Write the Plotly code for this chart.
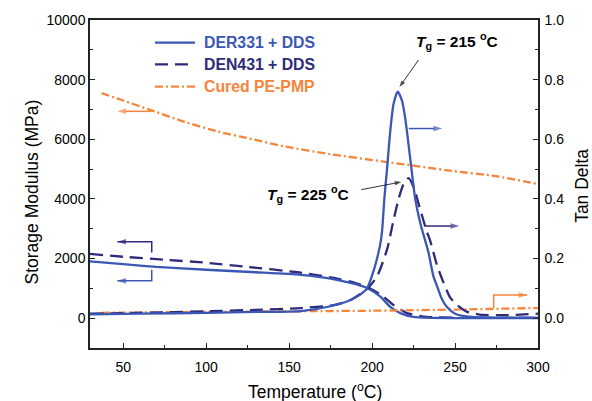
import plotly.graph_objects as go

# ---------------- data ----------------
# Storage modulus (MPa)
der_mod_T = [30, 50, 70, 100, 130, 157, 175, 187, 197, 205, 211, 217, 225, 235, 250, 270, 300]
der_mod_v = [1905, 1815, 1720, 1624, 1540, 1455, 1330, 1184, 1015, 720, 380, 170, 40, 10, 5, 5, 5]

den_mod_T = [30, 50, 75, 100, 125, 155, 177, 190, 197, 207, 213, 221, 233, 250, 300]
den_mod_v = [2155, 2060, 1960, 1860, 1720, 1540, 1350, 1180, 1050, 720, 440, 170, 45, 15, 10]

pe_mod_T = [37, 50, 67, 85, 107, 128, 148, 175, 208, 248, 275, 300]
pe_mod_v = [7546, 7300, 6970, 6620, 6260, 6000, 5750, 5500, 5245, 4940, 4760, 4500]

# Tan delta
der_tan_T = [30, 60, 100, 130, 157, 175, 187, 193, 197, 201, 203, 205, 206, 207.4, 209, 211, 213,
             215.5, 218, 220, 223, 226, 229, 231, 234, 237, 239, 242, 245, 250, 260, 280, 300]
der_tan_v = [0.013, 0.015, 0.018, 0.021, 0.024, 0.040, 0.061, 0.080, 0.100, 0.160, 0.200, 0.250,
             0.290, 0.400, 0.500, 0.630, 0.720, 0.760, 0.730, 0.670, 0.535, 0.400, 0.320, 0.280,
             0.220, 0.140, 0.110, 0.065, 0.038, 0.015, 0.004, 0.002, 0.002]

den_tan_T = [30, 60, 100, 130, 157, 177, 187, 197, 203, 209, 213, 216, 219, 222, 225, 229, 233,
             235, 239, 243, 247, 251, 257, 265, 280, 300]
den_tan_v = [0.015, 0.018, 0.023, 0.028, 0.034, 0.044, 0.061, 0.098, 0.140, 0.230, 0.330, 0.400,
             0.450, 0.470, 0.440, 0.365, 0.290, 0.260, 0.180, 0.120, 0.070, 0.045, 0.022, 0.012,
             0.010, 0.015]

pe_tan_T = [37, 100, 150, 200, 250, 300]
pe_tan_v = [0.018, 0.021, 0.023, 0.025, 0.029, 0.034]

series_names = ["DER331 + DDS", "DEN431 + DDS", "Cured PE-PMP"]

# ---------------- styling ----------------
BLUE = "#3b57b5"
NAVY = "#2d2b7a"
ORANGE = "#f5853a"
FONT = "Arial, Liberation Sans, sans-serif"
DASH_DEN = "13px,7px"
DASH_PE = "8px,3px,2px,3px"
LW = 2.3

fig = go.Figure()

def add(T, v, color, dash, axis):
    fig.add_trace(go.Scatter(x=T, y=v, mode="lines", yaxis=axis, showlegend=False,
                             hoverinfo="skip",
                             line=dict(color=color, width=LW, dash=dash,
                                       shape="spline", smoothing=0.6)))

add(pe_mod_T, pe_mod_v, ORANGE, DASH_PE, "y")
add(pe_tan_T, pe_tan_v, ORANGE, DASH_PE, "y2")
add(den_mod_T, den_mod_v, NAVY, DASH_DEN, "y")
add(den_tan_T, den_tan_v, NAVY, DASH_DEN, "y2")
add(der_mod_T, der_mod_v, BLUE, "solid", "y")
add(der_tan_T, der_tan_v, BLUE, "solid", "y2")

shapes = []
annotations = []

# ---------- manual legend (paper coordinates) ----------
leg_rows = [0.931, 0.865, 0.797]
leg_colors = [BLUE, NAVY, ORANGE]
leg_dash = ["solid", DASH_DEN, DASH_PE]
for name, yy, c, d in zip(series_names, leg_rows, leg_colors, leg_dash):
    shapes.append(dict(type="line", xref="paper", yref="paper", x0=0.145, x1=0.2344,
                       y0=yy, y1=yy, line=dict(color=c, width=LW, dash=d)))
    annotations.append(dict(xref="paper", yref="paper", x=0.2493, y=yy, xanchor="left",
                            yanchor="middle", showarrow=False,
                            text="<b>%s</b>" % name, font=dict(size=15.8, color=c, family=FONT)))

# ---------- Tg annotations ----------
annotations.append(dict(x=251, y=0.93, xref="x", yref="y2", showarrow=False,
                        xanchor="center", yanchor="middle",
                        text="<b><i>T</i><sub>g</sub> = 215 <sup>o</sup>C</b>",
                        font=dict(size=15.5, color="black", family=FONT)))
annotations.append(dict(x=161.3, y=0.416, xref="x", yref="y2", showarrow=False,
                        xanchor="center", yanchor="middle",
                        text="<b><i>T</i><sub>g</sub> = 225 <sup>o</sup>C</b>",
                        font=dict(size=15.5, color="black", family=FONT)))

# ---------- axis titles (annotations for exact placement) ----------
TITLE_FONT = dict(size=17.5, color="black", family=FONT)
annotations.append(dict(xref="paper", yref="paper", x=0.502, y=-0.131, showarrow=False,
                        xanchor="center", yanchor="middle",
                        text="Temperature (<sup>o</sup>C)", font=TITLE_FONT))
annotations.append(dict(xref="paper", yref="paper", x=-0.1295, y=0.477, showarrow=False,
                        xanchor="center", yanchor="middle",
                        textangle=-90, text="Storage Modulus (MPa)", font=TITLE_FONT))
annotations.append(dict(xref="paper", yref="paper", x=1.098, y=0.494, showarrow=False,
                        xanchor="center", yanchor="middle",
                        textangle=-90, text="Tan Delta", font=TITLE_FONT))

# ---------- arrows drawn as line traces ending in an arrow marker ----------
def arrow(pts_x, pts_y, axis, color, width=1.5, head=9):
    n = len(pts_x)
    fig.add_trace(go.Scatter(x=pts_x, y=pts_y, yaxis=axis, mode="lines+markers",
                             showlegend=False, hoverinfo="skip", cliponaxis=False,
                             line=dict(color=color, width=width),
                             marker=dict(symbol=["circle"] * (n - 1) + ["arrow"],
                                         size=[0] * (n - 1) + [head], angleref="previous",
                                         color=color, line=dict(width=0))))

# Tg pointers
arrow([228, 216.5], [0.866, 0.775], "y2", "black", width=0.8, head=7)
arrow([193.5, 217.7], [0.431, 0.457], "y2", "black", width=0.8, head=7)
# axis indicators
arrow([67.2, 46.5], [6937, 6937], "y", ORANGE)
arrow([67.2, 67.2, 46.5], [2200, 2562, 2562], "y", NAVY)
arrow([67.2, 67.2, 46.5], [1624, 1252, 1252], "y", BLUE)
arrow([222.1, 242.2], [0.636, 0.636], "y2", BLUE)
arrow([232.0, 252.5], [0.309, 0.309], "y2", NAVY)
arrow([273.3, 273.3, 293.5], [0.034, 0.078, 0.078], "y2", ORANGE)

AX = dict(showline=True, linecolor="#222", linewidth=1.5, ticks="inside", ticklen=5,
          tickwidth=1.2, tickcolor="#222", showgrid=False, zeroline=False, automargin=False,
          tickfont=dict(size=14, color="black", family=FONT))

fig.update_layout(
    width=592, height=401, margin=dict(l=90, r=54, t=20, b=53),
    paper_bgcolor="white", plot_bgcolor="white",
    font=dict(family=FONT, color="black"),
    shapes=shapes, annotations=annotations,
    xaxis=dict(range=[30, 300], dtick=50, tick0=0, mirror=True, ticklabelstandoff=5,
               minor=dict(dtick=25, ticks="inside", ticklen=3, tickcolor="#222"), **AX),
    yaxis=dict(range=[-1000, 10000], dtick=2000, tick0=0, tickformat="d",
               minor=dict(dtick=1000, ticks="inside", ticklen=3, tickcolor="#222"), **AX),
    yaxis2=dict(range=[-0.1, 1.0], dtick=0.2, tick0=0, tickformat=".1f", overlaying="y",
                side="right", ticklabelstandoff=2,
                minor=dict(dtick=0.1, ticks="inside", ticklen=3, tickcolor="#222"), **AX),
)

fig.write_html("out.html")
